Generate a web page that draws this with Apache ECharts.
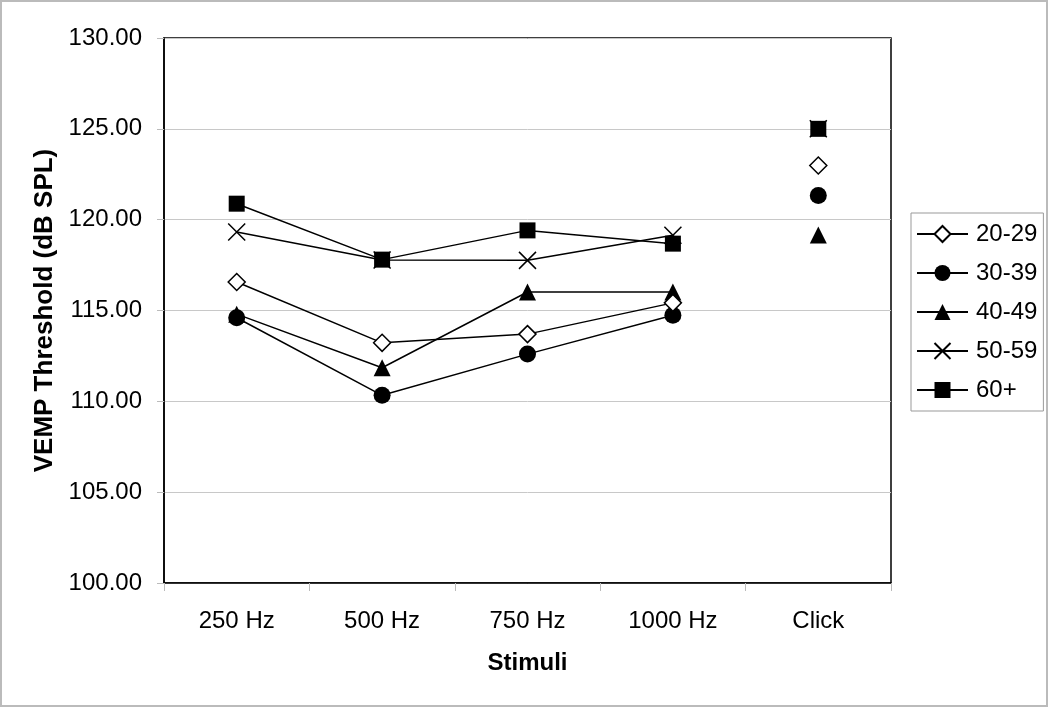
<!DOCTYPE html>
<html>
<head>
<meta charset="utf-8">
<script src="https://cdn.jsdelivr.net/npm/echarts@6/dist/echarts.min.js"></script>
<style>
  html, body { margin: 0; padding: 0; background: #fff; }
  #main { width: 1050px; height: 708px; }
</style>
</head>
<body>
<div id="main"></div>
<script>
// stimuli on the x axis
const stimuli = ['250 Hz', '500 Hz', '750 Hz', '1000 Hz', 'Click']
const groups = ['20-29', '30-39', '40-49', '50-59', '60+']
const yTicks = [100, 105, 110, 115, 120, 125, 130]

// thresholds per age group (tone bursts then click)
const age20 = [116.57, 113.22, 113.70, 115.42, 122.98]
const age30 = [114.60, 110.33, 112.60, 114.74, 121.33]
const age40 = [114.80, 111.85, 116.02, 116.02, 119.15]
const age50 = [119.32, 117.78, 117.76, 119.14, 125.00]
const age60 = [120.88, 117.80, 119.41, 118.68, 125.00]

const xPath = 'path://M0,0L10,10M10,0L0,10'
const looks = [
  { symbol: 'diamond', size: 17, z: 5, item: { color: '#fff', borderColor: '#000', borderWidth: 1.5, opacity: 1 } },
  { symbol: 'circle', size: 17, z: 4, item: { color: '#000', opacity: 1 } },
  { symbol: 'triangle', size: 17, z: 3, item: { color: '#000', opacity: 1 } },
  { symbol: xPath, size: 17, z: 2, item: { color: 'transparent', borderColor: '#000', borderWidth: 1.5, opacity: 1 } },
  { symbol: 'rect', size: 16, z: 6, item: { color: '#000', opacity: 1 } }
]
const allData = [age20, age30, age40, age50, age60]

const font = 'Liberation Sans, Arial, sans-serif'
const series = []
groups.forEach(function (g, i) {
  const vals = allData[i]
  // tone bursts joined with a line
  series.push({
    name: g,
    type: 'line',
    data: vals.slice(0, 4).concat([null]),
    symbol: looks[i].symbol,
    symbolSize: looks[i].size,
    itemStyle: looks[i].item,
    lineStyle: { color: '#000', width: 1.5 },
    z: looks[i].z,
    animation: false
  })
  // click shown as a lone point
  series.push({
    name: g,
    type: 'scatter',
    data: [null, null, null, null, vals[4]],
    symbol: looks[i].symbol,
    symbolSize: looks[i].size,
    itemStyle: looks[i].item,
    z: looks[i].z,
    animation: false
  })
})

const chart = echarts.init(document.getElementById('main'))
const option = {
  backgroundColor: '#fff',
  textStyle: { fontFamily: font },
  grid: {
    left: 164, right: 159, top: 38, bottom: 125,
    show: true, borderColor: '#000', borderWidth: 1.5
  },
  legend: {
    data: groups,
    orient: 'vertical',
    left: 911, top: 213,
    itemWidth: 51, itemHeight: 20,
    itemGap: 15,
    padding: [9, 6, 9, 5],
    borderColor: '#999', borderWidth: 1,
    textStyle: { fontSize: 24, color: '#000', fontFamily: font, padding: [0, 0, 0, 3] }
  },
  xAxis: {
    type: 'category',
    data: stimuli,
    name: 'Stimuli',
    nameLocation: 'middle',
    nameGap: 68,
    nameTextStyle: { fontSize: 24, fontWeight: 'bold', color: '#000', fontFamily: font },
    axisLine: { lineStyle: { color: '#000', width: 1.5 } },
    axisTick: { show: true, length: 8, lineStyle: { color: '#bbb' } },
    axisLabel: { fontSize: 24, color: '#000', margin: 26, fontFamily: font },
    splitLine: { show: false }
  },
  yAxis: {
    type: 'value',
    min: yTicks[0],
    max: yTicks[yTicks.length - 1],
    interval: 5,
    name: 'VEMP Threshold (dB SPL)',
    nameLocation: 'middle',
    nameGap: 104,
    nameTextStyle: { fontSize: 26, fontWeight: 'bold', color: '#000', fontFamily: font },
    axisLine: { show: true, lineStyle: { color: '#000', width: 1.5 } },
    axisTick: { show: true, length: 7, lineStyle: { color: '#bbb' } },
    axisLabel: {
      fontSize: 24, color: '#000', margin: 22, fontFamily: font,
      formatter: function (v) { return v.toFixed(2) }
    },
    splitLine: { show: true, lineStyle: { color: '#c8c8c8', width: 1 } }
  },
  graphic: [{
    type: 'rect',
    shape: { x: 1, y: 1, width: 1046, height: 705 },
    style: { fill: 'none', stroke: '#bbb', lineWidth: 2 },
    silent: true
  }],
  series: series
}
chart.setOption(option)
</script>
</body>
</html>
